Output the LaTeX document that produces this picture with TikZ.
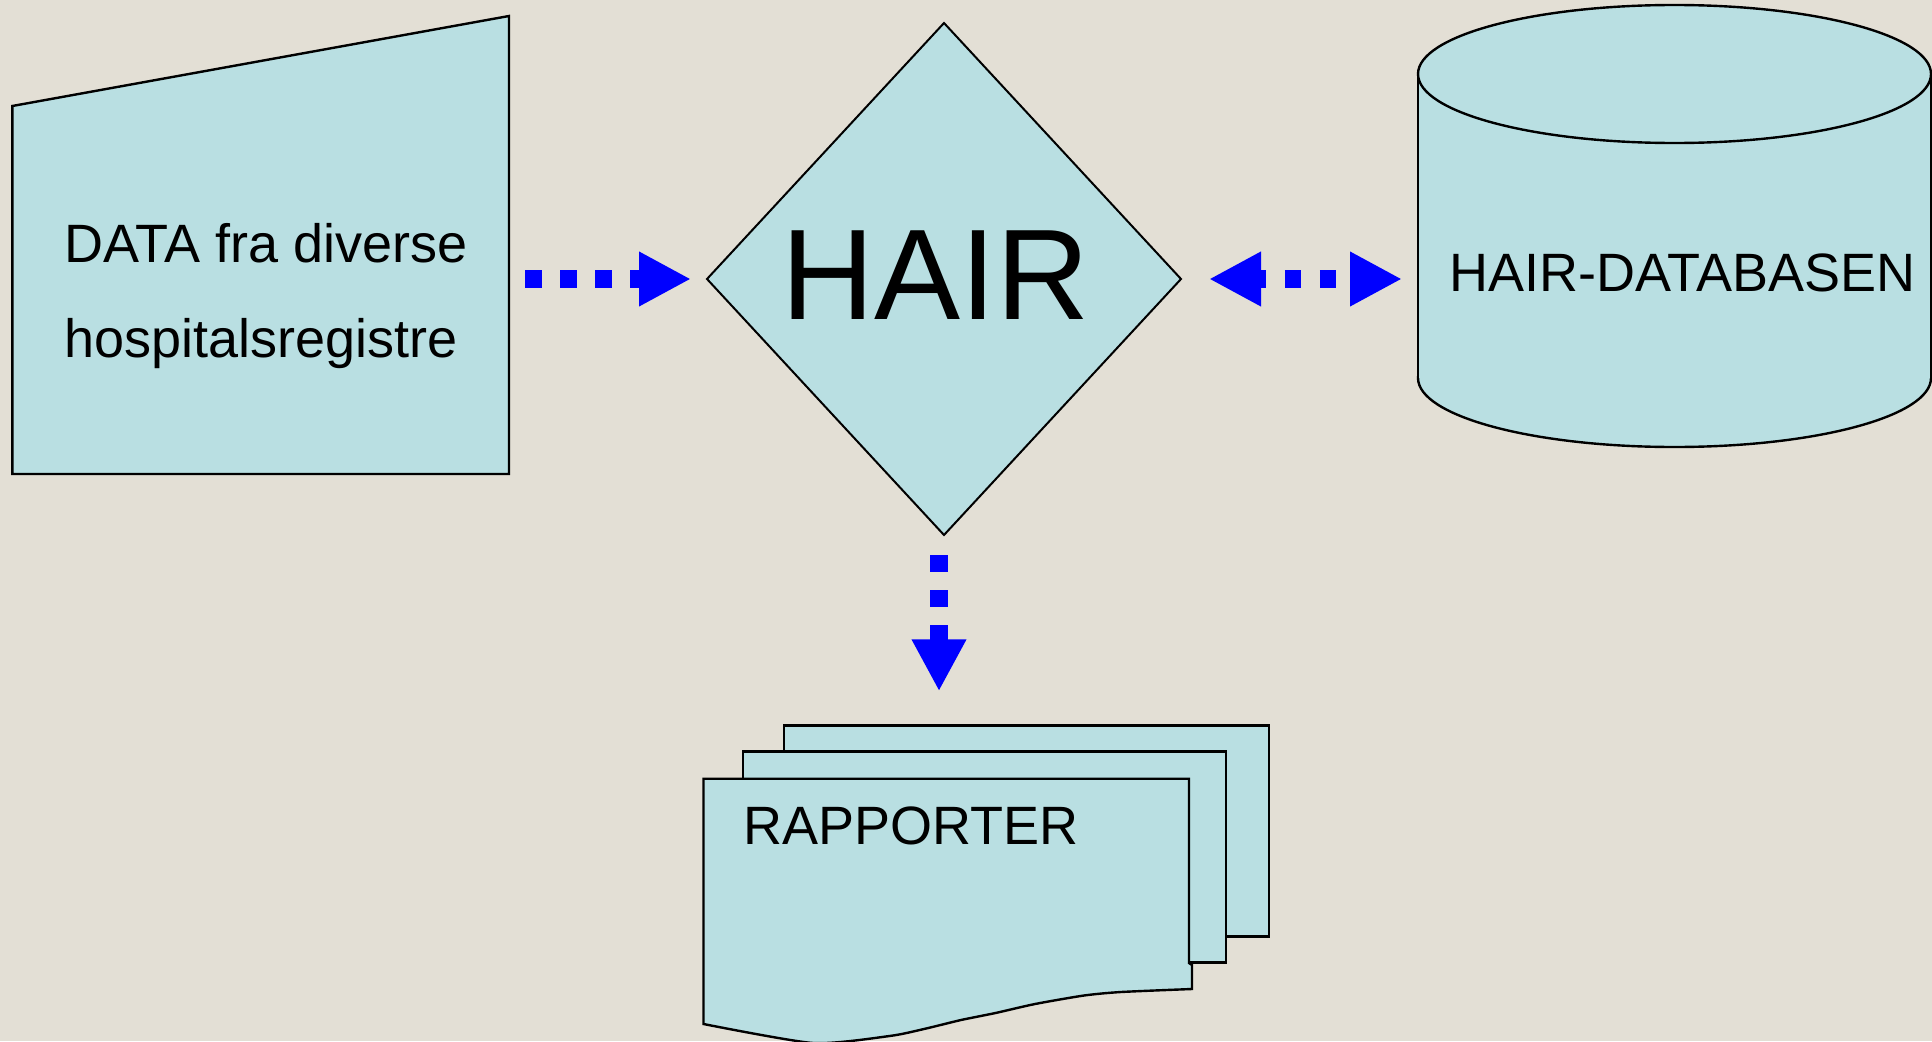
\documentclass[tikz,border=0pt]{standalone}
\usepackage{fontspec}
\setmainfont{Liberation Sans}
\usetikzlibrary{arrows.meta,shapes.geometric,calc}
\definecolor{paper}{RGB}{227,223,213}
\definecolor{shapefill}{RGB}{185,223,226}
\definecolor{flowblue}{RGB}{0,0,255}

\begin{document}
\begin{tikzpicture}[x=1pt,y=-1pt,
  box/.style={fill=shapefill, draw=black, line width=2.4pt, line join=miter},
  ghost/.style={inner sep=0pt, outer sep=0pt, draw=none},
  txt/.style={inner sep=0pt, font=\fontsize{54}{95}\selectfont, anchor=base west},
  flow/.style={draw=flowblue, line width=17.5pt, dash pattern=on 17pt off 18pt,
    -{Triangle[length=52pt,width=51pt]}},
  flowboth/.style={flow, dash pattern=on 16pt off 19pt, dash phase=8pt,
    {Triangle[length=52pt,width=51pt]}-{Triangle[length=52pt,width=51pt]}},
]
\fill[paper] (0,0) rectangle (1932,1041);
\useasboundingbox (0,0) rectangle (1932,1041);
\clip (0,0) rectangle (1932,1041);

% manual input: data from the hospital registers
\node[ghost, minimum width=496.7pt, minimum height=458pt] (data) at (260.65,245) {};
\path[box] (data.south west) -- ([yshift=-90pt]data.north west)
  -- (data.north east) -- (data.south east) -- cycle;
% base anchor of a two-line node sits on its last line
\node[txt, align=left] (datatext) at (64,357) {DATA fra diverse\\hospitalsregistre};

% decision diamond
\node[diamond, box, line width=2pt, minimum width=474pt, minimum height=512pt,
  inner sep=0pt, outer sep=0pt] (hair) at (944,279) {};
\node[inner sep=0pt, font=\fontsize{129}{129}\selectfont, anchor=base west]
  (hairtext) at (781,319) {HAIR};

% database cylinder
\node[ghost, minimum width=513pt, minimum height=304pt] (db) at (1674.5,226) {};
\filldraw[box] (db.south) ellipse [x radius=256.5, y radius=69];
\fill[shapefill] (db.south west) rectangle (db.north east);
\draw[line width=2.4pt] (db.south west) -- (db.north west)
  (db.south east) -- (db.north east);
\filldraw[box] (db.north) ellipse [x radius=256.5, y radius=69];
\node[txt] (dbtext) at (1449,291) {HAIR-DATABASEN};

% stack of report pages
\node[box, inner sep=0pt, minimum width=485pt, minimum height=211pt] (docs) at (1026.3,831) {};
\node[box, inner sep=0pt, minimum width=483pt, minimum height=211pt] (docsmid) at (984.5,857) {};
\path[box] (703.5,778.7) -- (1189,778.7) -- (1189,963) -- (1192,965) -- (1192,989)
  -- plot[smooth, tension=0.4] coordinates {(1192,989) (1121,992) (1084,995.5)
  (1035,1004) (995.5,1013) (961,1020) (924,1029) (889.6,1036) (813,1043) (703.5,1024)}
  -- cycle;
\node[txt] (doctext) at (743,844) {RAPPORTER};

% connectors
\draw[flow, shorten <=16pt, shorten >=16pt] (data.east |- hair.west) -- (hair.west);
\draw[flowboth, shorten <=28pt, shorten >=16pt] (hair.east) -- (hair.east -| db.west);
\draw[flow, shorten <=20pt, shorten >=33pt] ([xshift=-5pt]hair.south)
  -- ([xshift=-5pt]hair.south |- docs.north);
\end{tikzpicture}
\end{document}
